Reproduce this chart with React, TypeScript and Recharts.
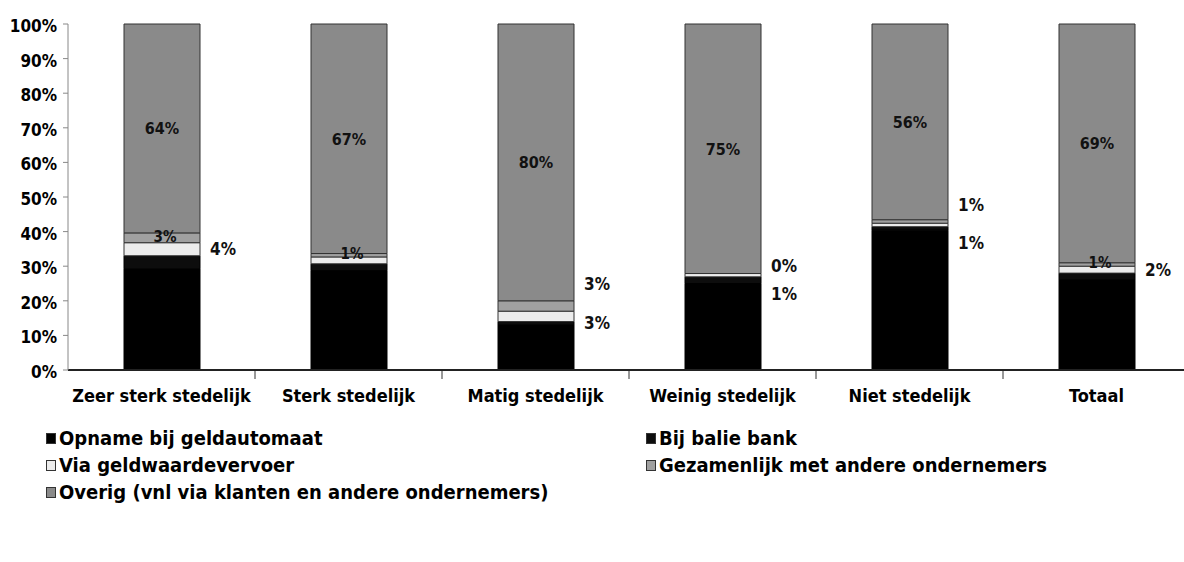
import { BarChart, Bar, XAxis, YAxis, LabelList } from 'recharts';

// categories and shares (%)
const categories = [
  'Zeer sterk stedelijk',
  'Sterk stedelijk',
  'Matig stedelijk',
  'Weinig stedelijk',
  'Niet stedelijk',
  'Totaal',
];
const opname = [31, 29, 13, 26, 40, 26];
const balie = [4, 2, 1, 2, 1, 2];
const geldwaarde = [4, 2, 3, 1, 1, 2];
const gezamenlijk = [3, 1, 3, 0, 1, 1];
const overig = [64, 67, 80, 75, 56, 69];
const yTicks = [0, 0.1, 0.2, 0.3, 0.4, 0.5, 0.6, 0.7, 0.8, 0.9, 1];

const seriesNames = [
  'Opname bij geldautomaat',
  'Bij balie bank',
  'Via geldwaardevervoer',
  'Gezamenlijk met andere ondernemers',
  'Overig (vnl via klanten en andere ondernemers)',
];

const data = categories.map((name, i) => ({
  name,
  opname: opname[i],
  balie: balie[i],
  geldwaarde: geldwaarde[i],
  gezamenlijk: gezamenlijk[i],
  overig: overig[i],
}));

const FONT = '"DejaVu Sans Condensed", "DejaVu Sans", sans-serif';
const BLACK = '#000000';
const BLACK2 = '#0d0d0d';
const WHITE = '#ececec';
const GREY1 = '#a0a0a0';
const GREY2 = '#8a8a8a';
const HALF_BAND = 93.5;

type Place = number | 'in' | null;
// where the small labels sit: 'in' = inside bar, number = outside nudge (px)
const viaPlace: Place[] = [0, null, 7, 19, 18, 0];
const gezPlace: Place[] = ['in', 'in', -22, -9, -16, 'in'];

// labels look up the category by name, so skipped zero-height rects don't shift them
function smallLabel(values: number[], place: Place[], onlyZero = false) {
  return (props: any) => {
    const { x, y, width, height, value } = props;
    const idx = categories.indexOf(value);
    if (idx < 0) return null;
    const v = values[idx];
    if (onlyZero && v !== 0) return null;
    const p = place[idx];
    if (p === null || p === undefined) return null;
    const cy = Number(y) + Number(height) / 2;
    if (p === 'in') {
      return (
        <text x={Number(x) + Number(width) / 2 + 3} y={cy} dy={4} textAnchor="middle"
          fontFamily={FONT} fontWeight="bold" fontSize={15} fill="#111">
          {`${v}%`}
        </text>
      );
    }
    return (
      <text x={Number(x) + Number(width) + 10} y={cy + p} dy={6} textAnchor="start"
        fontFamily={FONT} fontWeight="bold" fontSize={17} fill="#111">
        {`${v}%`}
      </text>
    );
  };
}

function bigLabel(props: any) {
  const { x, y, width, height, value } = props;
  return (
    <text x={Number(x) + Number(width) / 2} y={Number(y) + Number(height) / 2} dy={6}
      textAnchor="middle" fontFamily={FONT} fontWeight="bold" fontSize={16} fill="#111">
      {`${value}%`}
    </text>
  );
}

function CatTick(props: any) {
  const { x, y, payload } = props;
  return (
    <g>
      <line x1={x + HALF_BAND} x2={x + HALF_BAND} y1={371} y2={379} stroke="#333" />
      <text x={x} y={y} dy={26} textAnchor="middle" fontFamily={FONT} fontWeight="bold"
        fontSize={18} fill="#000">
        {payload.value}
      </text>
    </g>
  );
}

function PctTick(props: any) {
  const { x, y, payload } = props;
  return (
    <text x={x} y={y} dy={8} textAnchor="end" fontFamily={FONT} fontWeight="bold"
      fontSize={17} fill="#000">
      {`${Math.round(payload.value * 100)}%`}
    </text>
  );
}

const swatches = [BLACK, BLACK2, WHITE, GREY1, GREY2];
const legendSlots = [
  { left: 46, top: 426 },
  { left: 646, top: 426 },
  { left: 46, top: 453 },
  { left: 646, top: 453 },
  { left: 46, top: 480 },
];

export default function App() {
  return (
    <div style={{ position: 'absolute', left: 0, top: 0, width: 1184, height: 562, overflow: 'hidden', background: '#fff' }}>
      <BarChart
        width={1200}
        height={562}
        data={data}
        stackOffset="expand"
        margin={{ top: 24, right: 10, bottom: 162, left: 0 }}
        barSize={76}
      >
        <XAxis
          dataKey="name"
          height={30}
          tickLine={false}
          tickMargin={0}
          tick={<CatTick />}
          axisLine={{ stroke: '#222', strokeWidth: 2 }}
          interval={0}
        />
        <YAxis
          width={68}
          domain={[0, 1]}
          ticks={yTicks}
          tickSize={5}
          tickMargin={6}
          tick={<PctTick />}
          axisLine={{ stroke: '#888' }}
          tickLine={{ stroke: '#888' }}
        />
        <Bar dataKey="opname" stackId="a" fill={BLACK} stroke="#000" isAnimationActive={false} />
        <Bar dataKey="balie" stackId="a" fill={BLACK2} stroke="#000" isAnimationActive={false} />
        <Bar dataKey="geldwaarde" stackId="a" fill={WHITE} stroke="#333" isAnimationActive={false}>
          <LabelList dataKey="name" content={smallLabel(geldwaarde, viaPlace)} />
          <LabelList dataKey="name" content={smallLabel(gezamenlijk, gezPlace, true)} />
        </Bar>
        <Bar dataKey="gezamenlijk" stackId="a" fill={GREY1} stroke="#333" isAnimationActive={false}>
          <LabelList dataKey="name" content={smallLabel(gezamenlijk, gezPlace)} />
        </Bar>
        <Bar dataKey="overig" stackId="a" fill={GREY2} stroke="#333" isAnimationActive={false}>
          <LabelList dataKey="overig" content={bigLabel} />
        </Bar>
      </BarChart>
      {seriesNames.map((name, i) => (
        <div
          key={name}
          style={{
            position: 'absolute',
            left: legendSlots[i].left,
            top: legendSlots[i].top,
            display: 'flex',
            alignItems: 'center',
            fontFamily: FONT,
            fontWeight: 'bold',
            fontSize: 20,
            color: '#000',
            whiteSpace: 'nowrap',
          }}
        >
          <span style={{ display: 'inline-block', width: 8, height: 9, background: swatches[i], border: '1px solid #333', marginRight: 3 }} />
          {name}
        </div>
      ))}
    </div>
  );
}
